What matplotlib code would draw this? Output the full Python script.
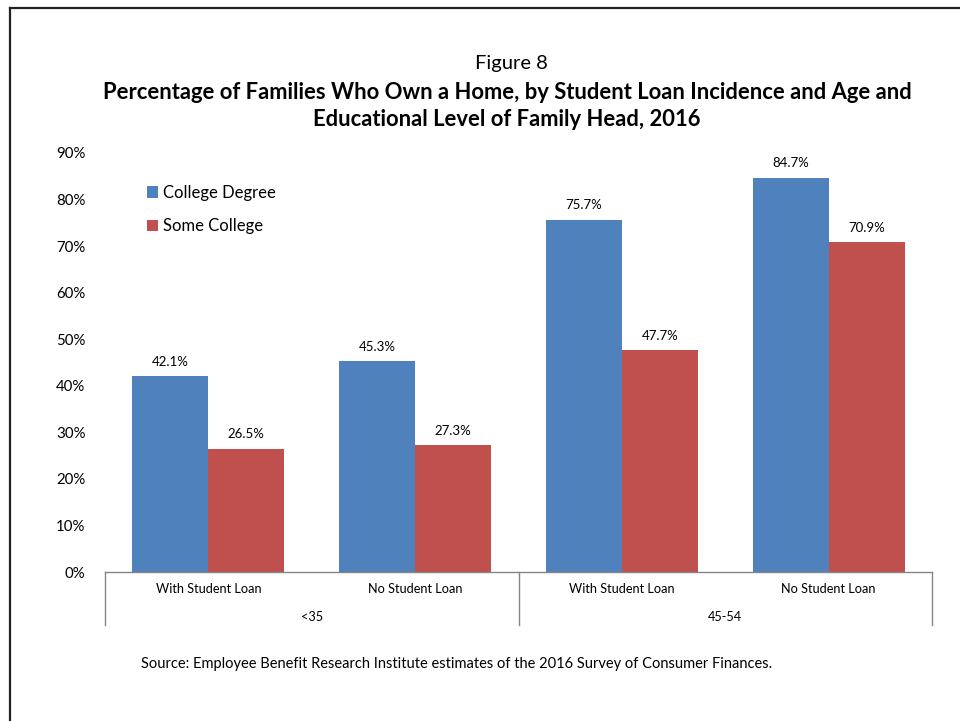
import matplotlib.pyplot as plt
from matplotlib.lines import Line2D

plt.rcParams['font.family'] = ['Lato', 'DejaVu Sans']

# data
categories = ['With Student Loan', 'No Student Loan', 'With Student Loan', 'No Student Loan']
age_groups = ['<35', '45-54']
college_degree = [42.1, 45.3, 75.7, 84.7]
some_college = [26.5, 27.3, 47.7, 70.9]
series_names = ['College Degree', 'Some College']
colors = ['#4F81BD', '#C0504D']

W, H = 960, 721
fig = plt.figure(figsize=(W / 100, H / 100), dpi=100)

# axes box in pixels: left 105, right 932, top 153, bottom 572
ax = fig.add_axes([105 / W, 1 - 572 / H, (932 - 105) / W, (572 - 153) / H])

bw = 0.367
x = list(range(len(categories)))
b1 = ax.bar([i - bw / 2 for i in x], college_degree, bw, color=colors[0], label=series_names[0])
b2 = ax.bar([i + bw / 2 for i in x], some_college, bw, color=colors[1], label=series_names[1])

for bars, vals in [(b1, college_degree), (b2, some_college)]:
    for r, v in zip(bars, vals):
        ax.annotate(f'{v:.1f}%', (r.get_x() + r.get_width() / 2, v), xytext=(0, 6),
                    textcoords='offset points', ha='center', va='bottom', fontsize=9.5)

ax.set_xlim(-0.5, 3.5)
ax.set_ylim(0, 90)
ax.set_yticks(range(0, 91, 10))
ax.set_yticklabels([f'{t}%' for t in range(0, 91, 10)], fontsize=10.8)
ax.tick_params(axis='y', length=0, pad=14)
ax.set_xticks([])
for s in ['top', 'right', 'left']:
    ax.spines[s].set_visible(False)
ax.spines['bottom'].set_color('#868686')
ax.spines['bottom'].set_linewidth(1)

# two-level category axis
tr = ax.get_xaxis_transform()
ah = 572 - 153
for i, c in enumerate(categories):
    ax.text(i, -(589 - 572) / ah, c, transform=tr, ha='center', va='center', fontsize=9.2)
for g, lab in enumerate(age_groups):
    ax.text(2 * g + 0.5, -(617 - 572) / ah, lab, transform=tr, ha='center', va='center', fontsize=9.2)
for xs in [-0.5, 1.5, 3.5]:
    ax.add_line(Line2D([xs, xs], [0, -(625 - 572) / ah], transform=tr, color='#868686',
                       lw=1, clip_on=False))

leg = ax.legend(loc='upper left', bbox_to_anchor=((140 - 105) / (932 - 105), 1 - (178 - 153) / ah),
                frameon=False, fontsize=12, handlelength=0.7, handleheight=0.7,
                handletextpad=0.3, labelspacing=1.05, borderaxespad=0)

# titles
fig.text(511 / W, 1 - 64 / H, 'Figure 8', ha='center', va='center', fontsize=14.5)
fig.text(507 / W, 1 - 106 / H,
         'Percentage of Families Who Own a Home, by Student Loan Incidence and Age and\n'
         'Educational Level of Family Head, 2016',
         ha='center', va='center', fontsize=15.8, fontweight='bold', linespacing=1.32)

fig.text(457 / W, 1 - 664 / H,
         'Source: Employee Benefit Research Institute estimates of the 2016 Survey of Consumer Finances.',
         ha='center', va='center', fontsize=10.5)

# outer frame
fig.add_artist(Line2D([10 / W, 10 / W], [0, 1 - 8 / H], transform=fig.transFigure, color='#222222', lw=1.6))
fig.add_artist(Line2D([10 / W, 1], [1 - 8 / H, 1 - 8 / H], transform=fig.transFigure, color='#222222', lw=1.6))

fig.savefig('out.png', dpi=100, facecolor='white')
